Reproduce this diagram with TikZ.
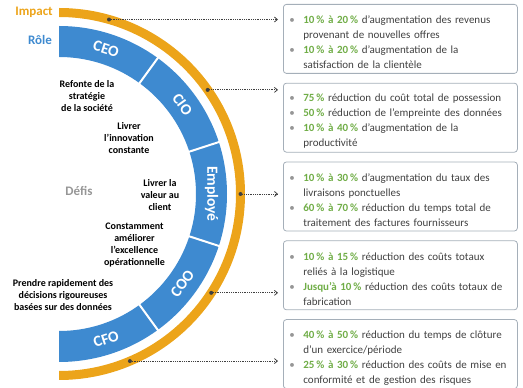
\documentclass[tikz,border=0pt]{standalone}
\usepackage{fontspec}
\setmainfont{Carlito}
\usetikzlibrary{positioning,arrows.meta}

\definecolor{orangeimpact}{RGB}{236,164,26}
\definecolor{bleurole}{RGB}{62,138,208}
\definecolor{grisdefis}{RGB}{150,150,150}
\definecolor{vertgain}{RGB}{112,173,71}
\definecolor{gristexte}{RGB}{64,64,64}
\definecolor{bordboite}{RGB}{165,175,185}

\newdimen\profpuce
\newcommand{\gain}[1]{\textbf{\textcolor{vertgain}{#1}}}
\newcommand{\puce}[1]{\par\noindent\makebox[14pt][l]{\textcolor{grisdefis}{•}}%
  \parbox[t]{208pt}{#1\par\global\profpuce=\prevdepth}\par\prevdepth=\profpuce}

\begin{document}
\begin{tikzpicture}[x=1pt, y=1pt,
  boite/.style={draw=bordboite, rounded corners=3pt, line width=0.8pt, text width=222pt, minimum height=69pt, inner xsep=6pt, align=left, font=\fontsize{11}{15}\selectfont, text=gristexte},
  defi/.style={align=center, font=\fontsize{10}{12}\selectfont\bfseries},
  role/.style={text=white, font=\fontsize{15.5}{15.5}\selectfont\bfseries},
  titre/.style={font=\fontsize{13}{13}\selectfont\bfseries},
  lien/.style={densely dotted, draw=gristexte, line width=0.8pt, -{Straight Barb[length=3pt,width=5pt]}, shorten >=5pt},
  point/.style={circle, fill=gristexte, inner sep=0pt, minimum size=4pt}]
\useasboundingbox (0,0) rectangle (523,388);
\coordinate (centre) at (59,194);

% anneaux
\fill[orangeimpact] (59,380) arc[start angle=90, end angle=-90, radius=186pt] -- (59,17) arc[start angle=-90, end angle=90, radius=177pt] -- cycle;
\fill[bleurole] (59,362) arc[start angle=90, end angle=-90, radius=168pt] -- (59,57) arc[start angle=-90, end angle=90, radius=137pt] -- cycle;
\foreach \a in {54,18,-18,-54}
  \draw[white, line width=2pt] (centre) ++(\a:135) -- ++(\a:35);

% roles
\foreach \nom/\txt/\a/\r in {ceo/CEO/72/-18, cio/CIO/36/-54, employe/Employé/0/-90, coo/COO/-36/54, cfo/CFO/-72/18}
  \node[role, rotate=\r] (\nom) at ([shift={(\a:152.5)}]centre) {\txt};

% titres
\node[titre, text=orangeimpact] (impact) at (34,376) {Impact};
\node[titre, text=bleurole] (role) at (40,348) {Rôle};
\node[titre, text=grisdefis] (defis) at (79,197) {Défis};

% defis
\node[defi] (strategie) at (87,292) {Refonte de la\\stratégie\\de la société};
\node[defi] (innovation) at (129,250) {Livrer\\l’innovation\\constante};
\node[defi] (valeur) at (160,193) {Livrer la\\valeur au\\client};
\node[defi] (excellence) at (134.5,142.5) {Constamment\\améliorer\\l’excellence\\opérationnelle};
\node[defi] (decisions) at (63,93) {Prendre rapidement des\\décisions rigoureuses\\basées sur des données};

% impacts
\node[boite, anchor=north west] (gain1) at (283,384) {%
\puce{\gain{10\,\% à 20\,\%} d’augmentation des revenus\newline provenant de nouvelles offres}
\puce{\gain{10\,\% à 20\,\%} d’augmentation de la\newline satisfaction de la clientèle}};
\node[boite, below=9pt of gain1] (gain2) {%
\puce{\gain{75\,\%} réduction du coût total de possession}
\puce{\gain{50\,\%} réduction de l’empreinte des données}
\puce{\gain{10\,\% à 40\,\%} d’augmentation de la\newline productivité}};
\node[boite, below=9pt of gain2] (gain3) {%
\puce{\gain{10\,\% à 30\,\%} d’augmentation du taux des\newline livraisons ponctuelles}
\puce{\gain{60\,\% à 70\,\%} réduction du temps total de\newline traitement des factures fournisseurs}};
\node[boite, below=9pt of gain3] (gain4) {%
\puce{\gain{10\,\% à 15\,\%} réduction des coûts totaux\newline reliés à la logistique}
\puce{\gain{Jusqu’à 10\,\%} réduction des coûts totaux de\newline fabrication}};
\node[boite, below=9pt of gain4] (gain5) {%
\puce{\gain{40\,\% à 50\,\%} réduction du temps de clôture\newline d’un exercice/période}
\puce{\gain{25\,\% à 30\,\%} réduction des coûts de mise en\newline conformité et de gestion des risques}};

% liens
\foreach \a/\b in {74/gain1, 35/gain2, 0/gain3, -33/gain4, -67/gain5} {
  \node[point] (p\b) at ([shift={(\a:181.5)}]centre) {};
  \draw[lien] (p\b.center) -- (p\b.center -| \b.west);
}
\end{tikzpicture}
\end{document}
